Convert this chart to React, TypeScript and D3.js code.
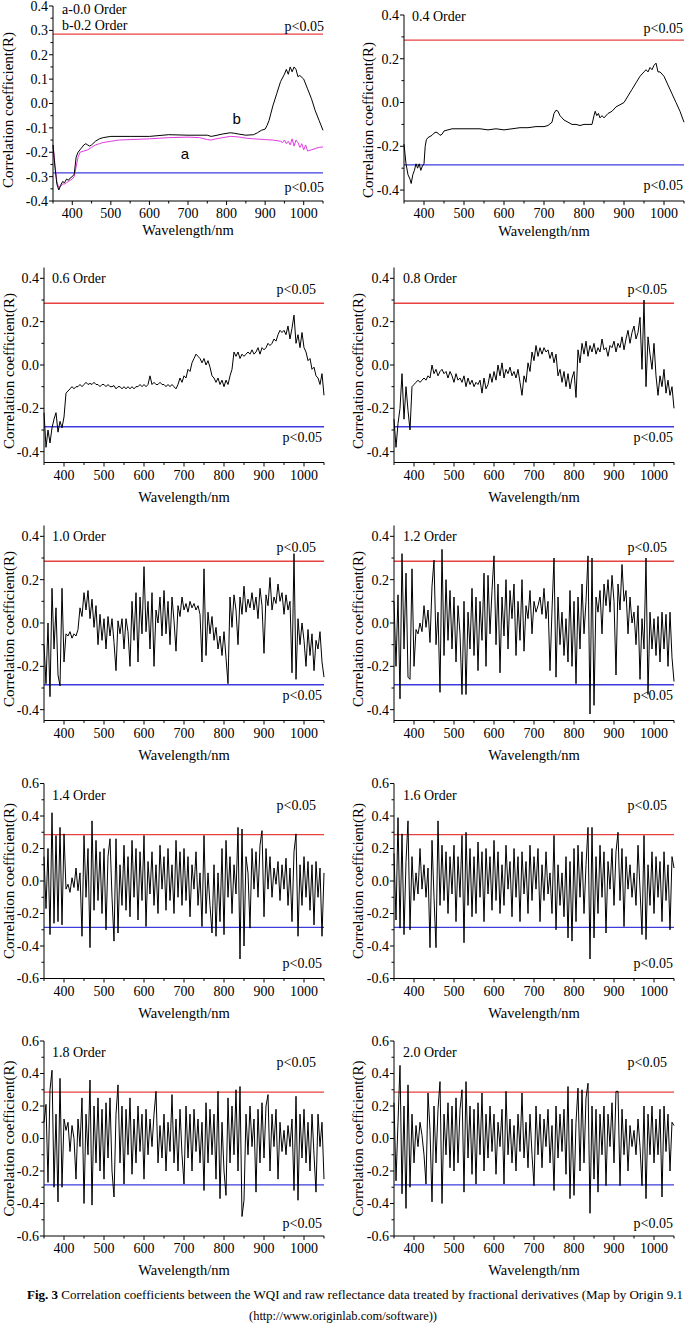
import React from 'react';
import * as d3 from 'd3';

// ---------- DATA ----------
const WL5: number[] = d3.range(350, 1051, 5); // 350..1050 step 5 (141)

const wlA = [350,355,360,365,370,375,380,385,390,395,400,405,410,415,420,430,440,450,460,470,480,500,520,550,600,650,700,730,750,760,770,790,810,830,850,870,900,920,940,945,950,955,960,965,970,975,980,985,990,995,1000,1005,1010,1020,1030,1040,1050];
const ord00 = [-0.17,-0.25,-0.32,-0.345,-0.34,-0.33,-0.33,-0.325,-0.32,-0.315,-0.31,-0.30,-0.26,-0.22,-0.20,
  -0.195,-0.19,-0.18,-0.17,-0.165,-0.16,
  -0.155,-0.15,-0.148,-0.145,-0.14,-0.138,-0.14,-0.148,-0.15,-0.146,
  -0.14,-0.135,-0.137,-0.142,-0.145,-0.148,-0.15,-0.155,-0.16,-0.15,
  -0.165,-0.155,-0.17,-0.145,-0.175,-0.15,-0.16,-0.18,-0.165,-0.19,
  -0.17,-0.195,-0.19,-0.185,-0.18,-0.178];

const wlB = [350,355,360,365,370,375,380,385,390,395,400,405,410,415,420,425,430,435,440,445,450,460,470,480,500,550,600,650,700,750,760,770,790,810,820,830,850,870,880,890,900,905,910,915,920,930,940,950,955,960,965,970,975,980,985,990,1000,1010,1020,1030,1040,1050];
const ord02 = [-0.17,-0.26,-0.33,-0.355,-0.335,-0.32,-0.325,-0.31,-0.315,-0.305,
  -0.30,-0.29,-0.22,-0.20,-0.19,-0.18,-0.17,-0.165,-0.17,-0.175,
  -0.17,-0.155,-0.145,-0.14,-0.135,-0.135,-0.135,-0.128,-0.13,-0.13,
  -0.135,-0.132,-0.125,-0.12,-0.122,-0.125,-0.13,-0.128,-0.12,-0.11,
  -0.105,-0.09,-0.07,-0.04,-0.01,0.04,0.09,0.12,0.14,0.12,
  0.15,0.13,0.15,0.14,0.11,0.115,0.10,0.06,0.02,-0.03,
  -0.07,-0.11];

const wl04 = [350,355,360,365,368,372,376,380,384,388,392,396,400,403,406,410,415,420,425,430,435,440,445,450,460,470,480,500,520,540,560,580,600,620,640,660,680,700,710,720,725,730,735,740,745,750,760,770,780,790,800,810,820,825,828,832,836,840,845,850,860,870,880,890,900,910,920,930,940,950,955,960,965,970,975,980,985,990,1000,1010,1020,1030,1040,1050];
const ord04 = [-0.19,-0.28,-0.33,-0.35,-0.37,-0.33,-0.31,-0.28,-0.30,-0.28,-0.31,-0.29,-0.28,-0.20,-0.17,-0.16,-0.155,-0.15,-0.14,-0.135,
  -0.14,-0.15,-0.145,-0.13,-0.125,-0.12,-0.12,-0.12,-0.12,-0.12,-0.125,-0.12,-0.125,-0.12,-0.115,-0.115,-0.11,-0.11,-0.105,-0.09,
  -0.05,-0.035,-0.04,-0.06,-0.07,-0.08,-0.09,-0.10,-0.10,-0.105,-0.10,-0.10,-0.10,-0.06,-0.04,-0.06,-0.05,-0.07,-0.06,-0.07,
  -0.05,-0.04,-0.02,-0.01,0.00,0.03,0.06,0.09,0.12,0.14,0.15,0.14,0.16,0.15,0.17,0.18,0.14,0.14,0.12,0.08,
  0.04,0.00,-0.04,-0.09];

const ord06 = [
  -0.22,-0.38,-0.30,-0.36,-0.29,-0.25,-0.22,-0.31,-0.26,-0.29,
  -0.24,-0.13,-0.12,-0.11,-0.10,-0.11,-0.10,-0.10,-0.09,-0.10,
  -0.09,-0.08,-0.09,-0.085,-0.09,-0.08,-0.09,-0.09,-0.10,-0.09,
  -0.09,-0.10,-0.09,-0.10,-0.10,-0.095,-0.11,-0.10,-0.10,-0.11,
  -0.10,-0.11,-0.10,-0.11,-0.10,-0.11,-0.10,-0.10,-0.09,-0.10,
  -0.09,-0.10,-0.09,-0.05,-0.09,-0.08,-0.09,-0.09,-0.08,-0.09,
  -0.09,-0.10,-0.09,-0.10,-0.09,-0.10,-0.11,-0.09,-0.06,-0.08,
  -0.05,-0.06,-0.02,-0.03,0.01,0.03,0.05,0.04,0.03,0.01,
  0.03,0.00,0.02,-0.01,-0.05,-0.06,-0.08,-0.06,-0.09,-0.07,
  -0.10,-0.07,-0.09,-0.05,-0.02,0.06,0.04,0.06,0.03,0.05,
  0.04,0.05,0.06,0.05,0.07,0.05,0.06,0.08,0.05,0.08,
  0.07,0.08,0.10,0.09,0.10,0.12,0.11,0.14,0.16,0.15,
  0.16,0.14,0.18,0.12,0.17,0.23,0.10,0.14,0.08,0.15,
  0.08,0.06,0.02,0.03,-0.02,-0.01,-0.05,-0.06,-0.09,-0.04,
  -0.14];

const ord08 = [
  -0.25,-0.38,-0.27,-0.20,-0.04,-0.25,-0.10,-0.21,-0.30,-0.10,
  -0.09,-0.08,-0.07,-0.08,-0.07,-0.06,-0.07,-0.05,-0.06,0.00,
  -0.04,-0.02,-0.05,-0.03,-0.02,-0.04,-0.03,-0.06,-0.03,-0.05,
  -0.08,-0.04,-0.07,-0.06,-0.08,-0.05,-0.10,-0.06,-0.09,-0.07,
  -0.10,-0.08,-0.09,-0.07,-0.13,-0.06,-0.11,-0.09,-0.04,-0.08,
  -0.03,-0.07,0.00,-0.05,0.01,-0.06,-0.02,-0.04,-0.01,-0.05,
  -0.03,-0.06,-0.02,-0.08,-0.14,-0.05,-0.08,0.01,-0.03,0.06,
  0.02,0.09,0.04,0.08,0.05,0.08,0.06,0.07,0.03,0.06,
  0.01,0.05,-0.05,-0.02,-0.08,-0.03,-0.10,-0.04,-0.11,-0.06,
  -0.03,-0.15,0.07,0.01,0.10,0.05,0.11,0.04,0.09,0.06,
  0.10,0.05,0.08,0.06,0.12,0.07,0.08,0.04,0.09,0.08,
  0.11,0.06,0.10,0.08,0.13,0.07,0.12,0.16,0.10,0.15,
  0.18,0.12,0.15,0.22,-0.02,0.30,-0.10,0.13,0.05,-0.02,
  0.10,-0.05,-0.14,-0.05,-0.10,-0.02,-0.13,-0.07,-0.14,-0.10,
  -0.20];

const ord10 = [
  -0.10,-0.28,0.00,-0.34,0.16,-0.12,0.07,-0.24,-0.29,0.16,
  -0.18,-0.05,-0.06,-0.04,-0.07,-0.05,-0.06,-0.03,0.07,0.03,
  0.14,0.06,0.15,0.02,0.11,-0.02,0.08,-0.10,0.04,-0.08,
  0.02,-0.12,0.03,-0.06,0.02,-0.09,-0.22,0.01,-0.05,0.02,
  -0.12,0.02,-0.04,-0.20,0.10,-0.08,0.14,-0.18,0.12,-0.05,
  0.26,-0.04,0.10,-0.12,0.14,-0.20,0.06,0.00,0.12,-0.06,
  0.15,-0.05,0.10,-0.10,0.12,0.01,-0.13,0.08,0.03,0.12,
  0.06,0.09,0.05,0.10,0.07,0.09,0.06,0.08,0.04,-0.18,
  0.25,-0.15,0.05,-0.05,0.03,-0.08,-0.02,-0.12,-0.06,-0.15,
  -0.04,-0.16,-0.28,0.12,-0.02,0.13,0.06,-0.10,0.12,0.04,
  0.17,0.05,0.11,0.07,0.14,0.06,0.12,0.02,0.16,0.08,
  -0.14,0.13,0.08,0.21,0.06,0.12,0.09,0.18,0.10,0.14,
  0.04,0.13,0.06,0.10,-0.23,0.32,-0.26,0.02,-0.10,0.00,
  -0.08,-0.20,-0.03,-0.15,-0.05,-0.22,-0.08,-0.12,-0.04,-0.18,
  -0.25];

const ord12 = [
  0.10,-0.20,0.13,-0.35,0.32,-0.12,0.23,-0.25,-0.26,0.25,
  -0.20,-0.03,-0.05,0.00,-0.04,0.08,-0.02,0.06,-0.09,0.17,
  0.29,-0.10,0.05,-0.32,0.34,-0.15,0.20,-0.08,0.15,-0.12,
  0.12,-0.18,0.08,-0.05,-0.33,0.10,-0.33,0.05,-0.12,0.16,
  -0.15,0.12,-0.22,0.10,-0.08,0.23,-0.20,0.22,-0.05,0.15,
  0.31,-0.10,0.18,-0.23,0.12,-0.06,0.20,-0.12,0.15,0.02,
  0.18,-0.15,0.10,-0.08,0.20,-0.13,0.08,0.02,0.15,-0.05,
  0.10,0.05,0.08,0.12,0.04,0.16,0.02,0.10,-0.22,0.06,
  0.30,-0.25,0.12,-0.10,0.05,-0.15,0.02,-0.18,0.15,-0.20,
  0.10,-0.28,0.12,-0.12,0.18,-0.05,0.10,0.31,-0.42,0.30,
  -0.38,0.12,0.05,0.15,-0.05,0.18,0.08,0.20,0.05,0.22,
  0.10,-0.24,0.18,0.06,0.27,0.10,0.15,-0.05,0.12,0.00,
  0.05,-0.10,0.08,-0.26,0.02,-0.12,0.30,-0.33,0.05,-0.12,
  0.02,-0.15,0.03,-0.18,0.05,-0.12,0.04,-0.20,0.05,-0.16,
  -0.27];

const ord14 = [
  0.15,-0.17,0.20,-0.33,0.42,-0.26,0.28,-0.25,0.33,-0.27,
  0.29,-0.05,-0.02,-0.07,0.02,-0.04,0.08,-0.06,0.05,-0.34,
  0.28,-0.10,0.20,-0.41,0.37,-0.18,0.25,-0.12,0.18,-0.20,
  0.20,-0.30,0.15,0.26,-0.10,-0.37,0.26,-0.32,0.10,-0.15,
  0.22,-0.18,0.15,-0.22,0.25,-0.10,0.20,-0.24,0.18,-0.12,
  0.28,-0.28,0.12,-0.08,0.18,-0.15,0.10,-0.20,0.22,-0.05,
  0.15,-0.18,0.20,-0.12,0.10,-0.20,0.25,-0.10,0.18,-0.15,
  0.20,-0.12,0.15,-0.22,0.10,-0.05,0.18,-0.15,0.05,-0.28,
  0.28,-0.20,0.05,-0.15,-0.32,0.10,-0.34,0.05,-0.25,0.20,
  -0.33,0.25,-0.10,0.15,-0.20,0.10,-0.08,0.33,-0.48,0.32,
  -0.40,0.15,0.05,-0.29,0.20,-0.05,0.18,-0.10,0.22,0.31,
  -0.22,0.20,-0.05,0.15,-0.10,0.08,-0.02,0.12,-0.12,0.10,
  -0.05,0.14,-0.15,0.08,-0.25,0.18,0.29,-0.34,0.10,-0.15,
  0.15,-0.10,0.12,-0.18,0.10,-0.27,0.12,-0.10,0.08,-0.34,
  0.05];

const ord16 = [
  0.17,-0.24,0.39,-0.29,0.29,-0.33,0.12,0.37,-0.30,0.15,
  -0.12,0.05,-0.08,0.20,-0.05,0.10,-0.10,0.08,-0.41,0.25,
  -0.10,-0.41,0.37,-0.15,0.22,-0.12,0.18,-0.20,0.15,-0.08,
  0.22,-0.25,0.15,-0.10,0.28,-0.38,0.30,-0.15,0.20,-0.22,
  0.15,-0.20,0.24,-0.10,0.18,-0.25,0.20,-0.08,0.15,-0.18,
  0.25,-0.12,0.18,-0.20,0.10,-0.15,0.22,-0.05,0.12,-0.22,
  0.20,-0.10,0.15,-0.25,0.18,-0.08,0.12,-0.20,0.22,-0.12,
  0.15,-0.05,0.20,-0.25,0.10,-0.12,0.18,-0.08,0.05,-0.20,
  0.28,-0.30,0.10,-0.15,0.05,-0.22,0.15,-0.35,0.12,-0.37,
  0.20,-0.25,0.22,-0.10,0.18,-0.20,0.10,0.33,-0.48,0.33,
  -0.35,0.15,-0.20,0.22,-0.10,0.18,-0.32,0.12,-0.05,0.20,
  -0.15,0.18,0.30,-0.12,0.20,-0.28,0.15,-0.05,0.10,-0.10,
  0.05,-0.15,0.22,-0.05,-0.33,0.28,-0.36,0.10,-0.15,0.18,
  -0.20,0.15,-0.10,0.12,-0.25,0.18,-0.12,0.10,-0.30,0.15,
  0.08];

const ord18 = [
  0.10,0.21,-0.27,0.30,0.42,-0.30,0.15,-0.39,0.37,-0.30,
  0.12,0.05,0.10,-0.08,0.08,0.00,-0.25,0.12,-0.05,0.25,
  -0.40,0.15,-0.10,0.36,-0.41,0.20,-0.15,0.25,-0.20,0.18,
  -0.25,0.22,-0.12,0.25,-0.20,-0.36,0.15,0.33,-0.15,0.20,
  -0.28,0.18,-0.10,0.25,-0.22,0.12,-0.15,0.20,-0.08,0.15,
  -0.25,0.18,-0.10,0.12,-0.05,0.15,0.29,-0.15,0.08,-0.12,
  0.15,-0.20,0.10,-0.08,0.27,-0.15,0.12,-0.20,0.18,-0.10,
  -0.28,0.20,-0.12,0.15,-0.20,0.18,-0.08,0.12,-0.15,0.10,
  -0.32,0.22,-0.15,0.18,-0.10,0.15,-0.25,0.29,-0.37,0.10,
  -0.20,-0.35,0.25,-0.15,0.20,-0.10,0.30,-0.20,0.32,-0.48,
  -0.38,0.15,-0.10,0.20,-0.05,0.12,-0.33,0.18,-0.15,0.22,
  -0.12,0.20,0.27,-0.20,0.15,-0.05,0.18,-0.25,0.10,-0.08,
  0.05,-0.10,0.08,-0.05,0.12,-0.32,0.26,-0.38,0.15,-0.12,
  0.18,-0.15,0.10,-0.20,0.15,-0.10,-0.33,0.15,-0.05,0.10,
  -0.25];

const ord20 = [
  0.22,-0.26,0.10,0.45,-0.34,0.20,-0.43,0.33,-0.30,0.15,
  -0.15,0.08,-0.05,0.10,0.02,-0.10,-0.28,0.28,0.05,-0.39,
  0.20,-0.15,0.18,0.35,-0.40,0.15,-0.10,0.22,-0.18,0.20,
  -0.20,0.25,-0.15,0.18,0.30,-0.33,0.35,-0.12,0.20,-0.22,
  0.18,-0.28,0.22,-0.10,0.28,-0.20,0.15,-0.12,0.20,-0.08,
  0.15,-0.22,0.10,-0.05,0.18,-0.28,0.29,-0.10,0.12,-0.15,
  0.08,-0.20,0.15,-0.08,0.28,-0.12,0.10,-0.18,0.15,-0.10,
  -0.29,0.20,-0.10,0.15,-0.18,0.12,-0.05,0.18,-0.15,0.08,
  -0.32,0.20,-0.12,0.15,-0.08,0.18,-0.22,0.32,-0.37,0.12,
  -0.35,0.10,0.31,-0.20,0.30,-0.15,0.25,0.34,-0.46,0.20,
  -0.25,0.18,-0.33,0.15,-0.10,0.20,-0.29,0.15,-0.05,0.22,
  -0.15,0.29,0.29,-0.29,0.18,-0.10,0.12,-0.20,0.08,-0.05,
  0.05,-0.10,0.12,-0.05,-0.29,0.20,-0.37,0.15,-0.10,0.20,
  -0.15,0.12,-0.10,0.18,-0.36,0.20,-0.08,0.15,-0.20,0.10,
  0.08];

const SIG = 0.285; // p<0.05 threshold
const xTicks = [400, 500, 600, 700, 800, 900, 1000];
const xMinor = [350, 450, 550, 650, 750, 850, 950, 1050];
const yTicks01 = [-0.4, -0.3, -0.2, -0.1, 0, 0.1, 0.2, 0.3, 0.4];
const yMinor01 = [-0.35, -0.25, -0.15, -0.05, 0.05, 0.15, 0.25, 0.35];
const yTicks04 = [-0.4, -0.2, 0, 0.2, 0.4];
const yMinor04 = [-0.3, -0.1, 0.1, 0.3];
const yTicks06 = [-0.6, -0.4, -0.2, 0, 0.2, 0.4, 0.6];
const yMinor06 = [-0.5, -0.3, -0.1, 0.1, 0.3, 0.5];

// ---------- STYLE ----------
const SERIF = "'Liberation Serif', 'Times New Roman', Times, serif";
const SANS = "'Liberation Sans', Arial, sans-serif";
const RED = '#e8413f';
const BLUE = '#3c3cdc';
const MAG = '#e23be2';

type Series = { wl: number[]; v: number[]; color: string };
type Cfg = {
  x0: number; x1: number; yTop: number; yBot: number; dom: [number, number];
  yt: number[]; ym: number[]; series: Series[];
  titles: { t: string; y: number }[]; titleX: number;
  ylabX: number; ylabY: number; ylabSize: number;
  pUp: [number, number]; pLow: [number, number]; xlabDy: number;
  notes?: { t: string; w: number; v: number }[];
};

const fmt = (v: number) => (Math.abs(v) < 1e-9 ? '0.0' : v.toFixed(1));

function Panel({ c }: { c: Cfg }) {
  const x = d3.scaleLinear().domain([350, 1050]).range([c.x0, c.x1]);
  const y = d3.scaleLinear().domain(c.dom).range([c.yBot, c.yTop]);
  const line = d3.line<[number, number]>().x(d => x(d[0])).y(d => y(d[1]));
  const mid = (c.x0 + c.x1) / 2;
  return (
    <g>
      <line x1={x(350)} x2={x(1050)} y1={y(SIG)} y2={y(SIG)} stroke={RED} strokeWidth={1.3} />
      <line x1={x(350)} x2={x(1050)} y1={y(-SIG)} y2={y(-SIG)} stroke={BLUE} strokeWidth={1.3} />
      {c.series.map((s, i) => {
        const pts: [number, number][] = s.wl.map((w, k) => [w, s.v[k]] as [number, number]).filter(d => d[1] !== undefined);
        return <path key={i} d={line(pts) || ''} fill="none" stroke={s.color} strokeWidth={1} strokeLinejoin="round" />;
      })}
      <line x1={c.x0} x2={c.x0} y1={c.yTop} y2={c.yBot} stroke="#000" strokeWidth={1} />
      <line x1={c.x0} x2={c.x1} y1={c.yBot} y2={c.yBot} stroke="#000" strokeWidth={1} />
      {c.yt.map(t => (
        <g key={'y' + t}>
          <line x1={c.x0 - 4} x2={c.x0} y1={y(t)} y2={y(t)} stroke="#000" />
          <text x={c.x0 - 5} y={y(t)} dy="0.35em" textAnchor="end" fontSize={14} fontFamily={SERIF}>{fmt(t)}</text>
        </g>
      ))}
      {c.ym.map(t => (
        <line key={'ym' + t} x1={c.x0 - 2.5} x2={c.x0} y1={y(t)} y2={y(t)} stroke="#000" />
      ))}
      {xTicks.map(t => (
        <g key={'x' + t}>
          <line x1={x(t)} x2={x(t)} y1={c.yBot} y2={c.yBot + 4} stroke="#000" />
          <text x={x(t)} y={c.yBot + 17} textAnchor="middle" fontSize={14} fontFamily={SERIF}>{t}</text>
        </g>
      ))}
      {xMinor.map(t => (
        <line key={'xm' + t} x1={x(t)} x2={x(t)} y1={c.yBot} y2={c.yBot + 2.5} stroke="#000" />
      ))}
      <text x={mid} y={c.yBot + c.xlabDy} dy="0.35em" textAnchor="middle" fontSize={14.5} fontFamily={SERIF}>Wavelength/nm</text>
      <text transform={`translate(${c.ylabX},${c.ylabY}) rotate(-90)`} dy="0.35em" textAnchor="middle" fontSize={c.ylabSize} fontFamily={SERIF}>Correlation coefficient(R)</text>
      {c.titles.map((t, i) => (
        <text key={'t' + i} x={c.titleX} y={t.y} dy="0.35em" fontSize={14} fontFamily={SERIF}>{t.t}</text>
      ))}
      <text x={c.x1 + c.pUp[0]} y={y(SIG) + c.pUp[1]} dy="0.35em" textAnchor="end" fontSize={14} fontFamily={SERIF}>p&lt;0.05</text>
      <text x={c.x1 + c.pLow[0]} y={y(-SIG) + c.pLow[1]} dy="0.35em" textAnchor="end" fontSize={14} fontFamily={SERIF}>p&lt;0.05</text>
      {(c.notes || []).map((n, i) => (
        <text key={'n' + i} x={x(n.w)} y={y(n.v)} dy="0.35em" textAnchor="middle" fontSize={15} fontFamily={SANS}>{n.t}</text>
      ))}
    </g>
  );
}

const L = { x0: 44, x1: 324 };
const R = { x0: 394, x1: 674 };
const rows = [
  { yTop: 267.5, yBot: 462.5, dom: [-0.45, 0.45] as [number, number], yt: yTicks04, ym: yMinor04, tdy: 10.5, ydy: 6, pUp: -14, pLow: 10 },
  { yTop: 525.5, yBot: 720.5, dom: [-0.45, 0.45] as [number, number], yt: yTicks04, ym: yMinor04, tdy: 10.5, ydy: 6, pUp: -14, pLow: 10 },
  { yTop: 783.5, yBot: 978.5, dom: [-0.6, 0.6] as [number, number], yt: yTicks06, ym: yMinor06, tdy: 11.5, ydy: 0, pUp: -30, pLow: 36 },
  { yTop: 1041, yBot: 1236, dom: [-0.6, 0.6] as [number, number], yt: yTicks06, ym: yMinor06, tdy: 11.5, ydy: 0, pUp: -30, pLow: 38 },
];
const gridSeries: [string, number[], string, number[]][] = [
  ['0.6 Order', ord06, '0.8 Order', ord08],
  ['1.0 Order', ord10, '1.2 Order', ord12],
  ['1.4 Order', ord14, '1.6 Order', ord16],
  ['1.8 Order', ord18, '2.0 Order', ord20],
];

const panels: Cfg[] = [
  {
    x0: 53, x1: 323, yTop: 6, yBot: 201, dom: [-0.4, 0.4], yt: yTicks01, ym: yMinor01,
    series: [{ wl: wlA, v: ord00, color: MAG }, { wl: wlB, v: ord02, color: '#000' }],
    titles: [{ t: 'a-0.0 Order', y: 9 }, { t: 'b-0.2 Order', y: 25 }], titleX: 62,
    ylabX: 8, ylabY: 110, ylabSize: 15, pUp: [1, -8], pLow: [1, 14], xlabDy: 29,
    notes: [{ t: 'b', w: 826, v: -0.061 }, { t: 'a', w: 692, v: -0.207 }],
  },
  {
    x0: 404, x1: 684, yTop: 15, yBot: 201, dom: [-0.45, 0.4], yt: yTicks04, ym: yMinor04,
    series: [{ wl: wl04, v: ord04, color: '#000' }],
    titles: [{ t: '0.4 Order', y: 16 }], titleX: 412,
    ylabX: 368, ylabY: 120, ylabSize: 15, pUp: [-1, -12], pLow: [-1, 20], xlabDy: 30,
  },
];
rows.forEach((r, i) => {
  const [tl, vl, tr, vr] = gridSeries[i];
  const mid = (r.yTop + r.yBot) / 2 + r.ydy;
  panels.push({
    ...L, yTop: r.yTop, yBot: r.yBot, dom: r.dom, yt: r.yt, ym: r.ym,
    series: [{ wl: WL5, v: vl, color: '#000' }],
    titles: [{ t: tl, y: r.yTop + r.tdy }], titleX: L.x0 + 8,
    ylabX: 8.5, ylabY: mid, ylabSize: 15, pUp: [-8, r.pUp], pLow: [-2, r.pLow], xlabDy: 34,
  });
  panels.push({
    ...R, yTop: r.yTop, yBot: r.yBot, dom: r.dom, yt: r.yt, ym: r.ym,
    series: [{ wl: WL5, v: vr, color: '#000' }],
    titles: [{ t: tr, y: r.yTop + r.tdy }], titleX: R.x0 + 9,
    ylabX: 358, ylabY: mid, ylabSize: 15, pUp: [-7, r.pUp], pLow: [-1, r.pLow], xlabDy: 34,
  });
});

export default function App() {
  return (
    <svg width={685} height={1325} style={{ position: 'absolute', left: 0, top: 0, background: '#fff' }}>
      <rect width={685} height={1325} fill="#fff" />
      {panels.map((c, i) => <Panel key={i} c={c} />)}
      <text x={27} y={1299} fontSize={13} fontFamily={SERIF} textLength={656} lengthAdjust="spacing">
        <tspan fontWeight="bold">Fig. 3</tspan>
        {' Correlation coefficients between the WQI and raw reflectance data treated by fractional derivatives (Map by Origin 9.1'}
      </text>
      <text x={343} y={1320} textAnchor="middle" fontSize={12.5} fontFamily={SERIF}>(http://www.originlab.com/software))</text>
    </svg>
  );
}
